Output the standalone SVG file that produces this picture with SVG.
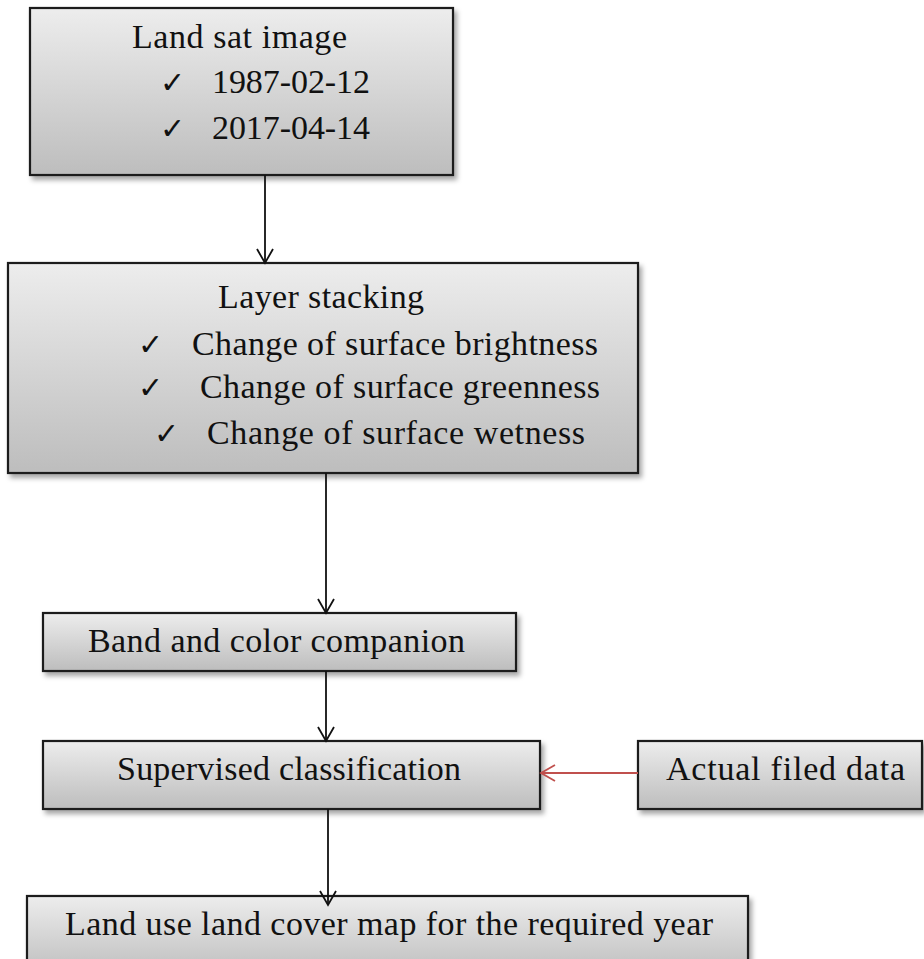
<svg xmlns="http://www.w3.org/2000/svg" width="924" height="959" viewBox="0 0 924 959">
<style>
.box{fill:url(#g);stroke:#1a1a1a;stroke-width:2.2;filter:url(#sh)}
.t{font-family:"Liberation Serif","Times New Roman",serif;font-size:34px;fill:#111}
.c{font-family:"DejaVu Sans",sans-serif;font-size:30px;fill:#111}
.conn{stroke:#111;stroke-width:1.8;fill:none}
.red{stroke:#c0504d;stroke-width:1.8;fill:none}
</style>
<defs>
<linearGradient id="g" x1="0" y1="0" x2="0" y2="1">
<stop offset="0" stop-color="#ededed"/>
<stop offset="1" stop-color="#bdbdbd"/>
</linearGradient>
<filter id="sh" x="-5%" y="-5%" width="115%" height="130%">
<feDropShadow dx="3" dy="4" stdDeviation="2.5" flood-color="#000" flood-opacity="0.35"/>
</filter>
<marker id="ah" viewBox="0 0 18 18" refX="16" refY="9" markerWidth="18" markerHeight="18" markerUnits="userSpaceOnUse" orient="auto">
<path d="M2,1 L16,9 L2,17" fill="none" stroke="#111" stroke-width="1.8"/>
</marker>
<marker id="ahr" viewBox="0 0 18 18" refX="16" refY="9" markerWidth="18" markerHeight="18" markerUnits="userSpaceOnUse" orient="auto">
<path d="M2,1 L16,9 L2,17" fill="none" stroke="#c0504d" stroke-width="1.8"/>
</marker>
</defs>
<rect width="924" height="959" fill="#fff"/>
<g id="n1">
<rect class="box" x="30" y="8" width="423" height="167"/>
<text class="t" x="132" y="48" textLength="215" lengthAdjust="spacing">Land sat image</text>
<text class="c" x="160" y="93">✓</text>
<text class="t" x="212" y="93" textLength="158" lengthAdjust="spacing">1987-02-12</text>
<text class="c" x="160" y="139">✓</text>
<text class="t" x="212" y="139" textLength="158" lengthAdjust="spacing">2017-04-14</text>
</g>
<g id="n2">
<rect class="box" x="8" y="263" width="630" height="210"/>
<text class="t" x="218" y="308" textLength="206" lengthAdjust="spacing">Layer stacking</text>
<text class="c" x="138" y="355">✓</text>
<text class="t" x="192" y="355" textLength="406" lengthAdjust="spacing">Change of surface brightness</text>
<text class="c" x="138" y="398">✓</text>
<text class="t" x="200" y="398" textLength="400" lengthAdjust="spacing">Change of surface greenness</text>
<text class="c" x="154" y="444">✓</text>
<text class="t" x="207" y="444" textLength="378" lengthAdjust="spacing">Change of surface wetness</text>
</g>
<g id="n3">
<rect class="box" x="43" y="613" width="473" height="58"/>
<text class="t" x="88" y="652" textLength="377" lengthAdjust="spacing">Band and color companion</text>
</g>
<g id="n4">
<rect class="box" x="43" y="741" width="497" height="68"/>
<text class="t" x="117" y="780" textLength="344" lengthAdjust="spacing">Supervised classification</text>
</g>
<g id="n5">
<rect class="box" x="638" y="741" width="284" height="68"/>
<text class="t" x="666" y="780" textLength="239" lengthAdjust="spacing">Actual filed data</text>
</g>
<g id="n6">
<rect class="box" x="27" y="896" width="721" height="80"/>
<text class="t" x="65" y="935" textLength="648" lengthAdjust="spacing">Land use land cover map for the required year</text>
</g>
<g id="connectors">
<line class="conn" x1="265" y1="175" x2="265" y2="263" marker-end="url(#ah)"/>
<line class="conn" x1="326" y1="473" x2="326" y2="613" marker-end="url(#ah)"/>
<line class="conn" x1="326" y1="671" x2="326" y2="741" marker-end="url(#ah)"/>
<line class="red" x1="638" y1="773" x2="541" y2="773" marker-end="url(#ahr)"/>
<line class="conn" x1="328" y1="809" x2="328" y2="905" marker-end="url(#ah)"/>
</g>
</svg>
